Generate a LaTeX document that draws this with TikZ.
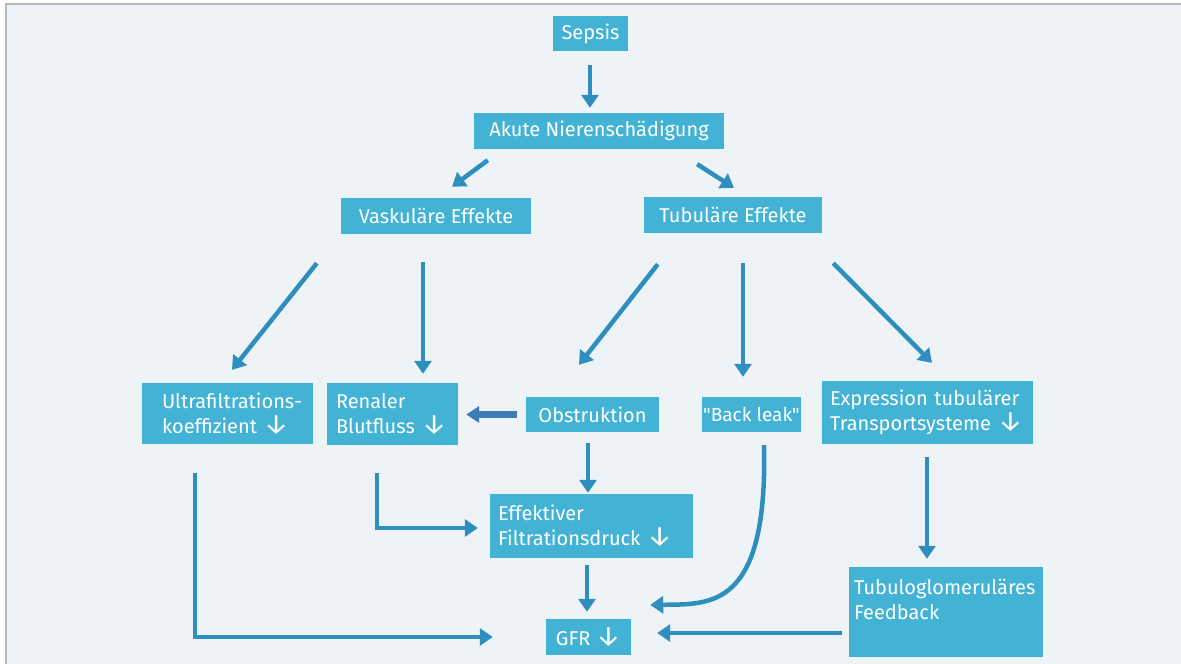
\documentclass[tikz,border=0pt]{standalone}
\usepackage{fontspec}
\usepackage{graphicx}
\setmainfont{Fira Sans}[Ligatures=TeXOff]
\usetikzlibrary{arrows.meta,calc}
\definecolor{boxc}{RGB}{66,179,212}
\definecolor{arrc}{RGB}{46,143,190}
\definecolor{bgc}{RGB}{238,243,248}
\definecolor{blockc}{RGB}{60,125,182}
\definecolor{framec}{RGB}{185,185,185}
\newcommand\dn{\ \scalebox{1.4}{↓}}
\begin{document}
\begin{tikzpicture}[x=1pt,y=-1pt,
  box/.style={fill=boxc, text=white, inner sep=0pt, font=\fontsize{20}{25}\selectfont},
  arr/.style={draw=arrc, line width=4.5pt, -{Triangle[width=17pt,length=13pt]}},
  blockarr/.style={draw=blockc, line width=7pt, -{Triangle[width=16pt,length=13pt]}},
]
\useasboundingbox (0,0) rectangle (1181,664);
\fill[white] (0,0) rectangle (1181,664);
\fill[bgc] (5.8,4.2) rectangle (1181,664);
\draw[framec, line width=1.7pt] (5.8,664) -- (5.8,4.2) -- (1181,4.2);

% nodes
\node[box, minimum width=75pt, minimum height=35pt] (sepsis) at (590.5,33.5) {Sepsis};
\node[box, minimum width=250pt, minimum height=36pt] (akute) at (599,131) {Akute Nierenschädigung};
\node[box, minimum width=190pt, minimum height=36pt] (vask) at (436,216) {Vaskuläre Effekte};
\node[box, minimum width=178pt, minimum height=36pt] (tub) at (733,215) {Tubuläre Effekte};
\node[box, minimum width=171pt, minimum height=61pt, text width=131pt, align=left] (ultra) at (227.5,413.5) {\mbox{Ultrafiltrations-}\\\mbox{koeffizient\dn}};
\node[box, minimum width=131pt, minimum height=62pt, text width=113pt, align=left] (ren) at (392.5,414) {Renaler\\Blutfluss\dn};
\node[box, minimum width=133pt, minimum height=35pt] (obs) at (592.5,414.5) {Obstruktion};
\node[box, minimum width=99pt, minimum height=35pt, font=\fontsize{19}{25}\selectfont] (back) at (751.5,414.5) {"Back leak"};
\node[box, minimum width=211pt, minimum height=63pt, text width=195pt, align=left] (expr) at (927.5,412.5) {Expression tubulärer\\Transportsysteme\dn};
\node[box, minimum width=203pt, minimum height=64pt, text width=187pt, align=left] (eff) at (591.5,526) {Effektiver\\Filtrationsdruck\dn};
\node[box, minimum width=85pt, minimum height=36pt] (gfr) at (588.5,637) {GFR\dn};
\node[box, minimum width=194pt, minimum height=90pt, text width=184pt, align=left] (tubulo) at (946,612) {Tubuloglomeruläres\\Feedback\\\mbox{}};

% connectors
\draw[arr] ($(sepsis.south)+(-0.5,14)$) -- ($(akute.north)+(-9,-5)$);
\draw[arr] ($(akute.south west)+(14,11)$) -- ($(vask.north)+(16,-11)$);
\draw[arr] ($(akute.south east)+(-27,15)$) -- ($(tub.north)+(1,-9)$);
\draw[arr] ($(vask.south west)+(-24,29)$) -- ($(ultra.north)+(4.5,-13)$);
\draw[arr] ($(vask.south)+(-13,28)$) -- ($(ren.north)+(30.5,-9)$);
\draw[arr] ($(tub.south west)+(14,31)$) -- ($(obs.north)+(-13.5,-32)$);
\draw[arr] ($(tub.south)+(10,30)$) -- ($(back.north)+(-8.5,-20)$);
\draw[arr] ($(tub.south east)+(11,30)$) -- ($(expr.north)+(4.5,-18)$);
\draw[blockarr] ($(obs.west)+(-9,0)$) -- ($(ren.east)+(8,0.5)$);
\draw[arr] ($(obs.south)+(-4.5,11)$) -- ($(eff.north)+(-3.5,-1)$);
\draw[arr] ($(eff.south)+(-4.5,7)$) -- ($(gfr.north)+(-1.5,-7)$);
\draw[arr] ($(ren.south)+(-15.5,28)$) |- ($(eff.west)+(-12,2)$);
\draw[arr] ($(ultra.south)+(-32.5,29)$) |- ($(gfr.west)+(-53,0)$);
\draw[arr] ($(back.south)+(12.5,13)$) .. controls (768,610) and (710,604) .. ($(gfr.east)+(19,-32)$);
\draw[arr] ($(expr.south)+(-0.5,13)$) -- ($(tubulo.north)+(-19,-8)$);
\draw[arr] ($(tubulo.west)+(-7,21)$) -- ($(gfr.east)+(26,-4)$);
\end{tikzpicture}
\end{document}
